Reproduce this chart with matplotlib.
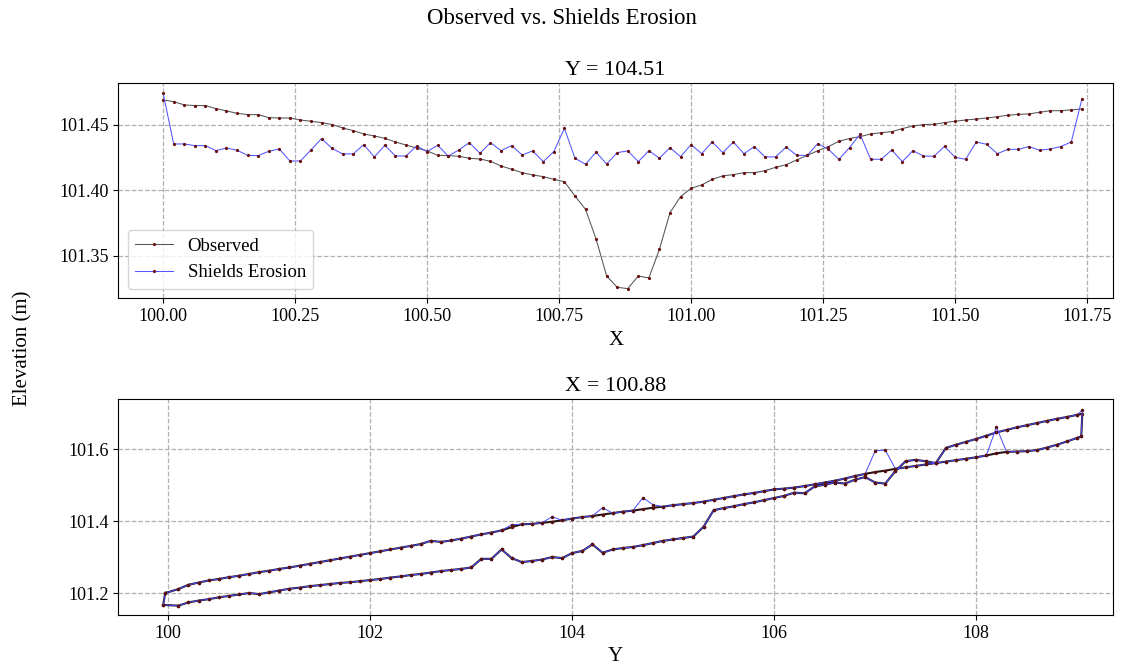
import numpy as np
import matplotlib
matplotlib.use('Agg')
import matplotlib.pyplot as plt

plt.rcParams['font.family'] = 'serif'
plt.rcParams['font.serif'] = ['Liberation Serif', 'DejaVu Serif']

# ---- section along X at Y = 104.51 ----
x_section = [
    100.00, 100.02, 100.04, 100.06, 100.08, 100.10, 100.12, 100.14, 100.16, 100.18,
    100.20, 100.22, 100.24, 100.26, 100.28, 100.30, 100.32, 100.34, 100.36, 100.38,
    100.40, 100.42, 100.44, 100.46, 100.48, 100.50, 100.52, 100.54, 100.56, 100.58,
    100.60, 100.62, 100.64, 100.66, 100.68, 100.70, 100.72, 100.74, 100.76, 100.78,
    100.80, 100.82, 100.84, 100.86, 100.88, 100.90, 100.92, 100.94, 100.96, 100.98,
    101.00, 101.02, 101.04, 101.06, 101.08, 101.10, 101.12, 101.14, 101.16, 101.18,
    101.20, 101.22, 101.24, 101.26, 101.28, 101.30, 101.32, 101.34, 101.36, 101.38,
    101.40, 101.42, 101.44, 101.46, 101.48, 101.50, 101.52, 101.54, 101.56, 101.58,
    101.60, 101.62, 101.64, 101.66, 101.68, 101.70, 101.72, 101.74]
obs_x = [
    101.4691, 101.4678, 101.4653, 101.4648, 101.4648, 101.4625, 101.4607, 101.4589, 101.4579, 101.4579,
    101.4556, 101.4553, 101.4553, 101.4538, 101.4528, 101.4518, 101.4503, 101.4477, 101.4457, 101.4431,
    101.4416, 101.4398, 101.4370, 101.4347, 101.4324, 101.4302, 101.4268, 101.4266, 101.4261, 101.4246,
    101.4240, 101.4223, 101.4187, 101.4162, 101.4136, 101.4118, 101.4106, 101.4085, 101.4067, 101.3958,
    101.3856, 101.3630, 101.3347, 101.3261, 101.3251, 101.3347, 101.3332, 101.3551, 101.3831, 101.3953,
    101.4017, 101.4042, 101.4085, 101.4111, 101.4121, 101.4136, 101.4136, 101.4151, 101.4177, 101.4197,
    101.4233, 101.4268, 101.4304, 101.4335, 101.4376, 101.4396, 101.4411, 101.4431, 101.4441, 101.4449,
    101.4472, 101.4492, 101.4503, 101.4505, 101.4518, 101.4528, 101.4538, 101.4545, 101.4553, 101.4563,
    101.4574, 101.4581, 101.4584, 101.4597, 101.4609, 101.4609, 101.4615, 101.4622]
shields_x = [
    101.4742, 101.4355, 101.4355, 101.4342, 101.4342, 101.4304, 101.4324, 101.4307, 101.4268, 101.4266,
    101.4299, 101.4317, 101.4225, 101.4225, 101.4309, 101.4396, 101.4321, 101.4279, 101.4279, 101.4350,
    101.4256, 101.4345, 101.4263, 101.4263, 101.4340, 101.4297, 101.4345, 101.4263, 101.4309, 101.4365,
    101.4284, 101.4365, 101.4304, 101.4342, 101.4271, 101.4302, 101.4220, 101.4297, 101.4474, 101.4246,
    101.4200, 101.4292, 101.4202, 101.4289, 101.4302, 101.4220, 101.4304, 101.4246, 101.4327, 101.4258,
    101.4350, 101.4281, 101.4370, 101.4289, 101.4370, 101.4281, 101.4335, 101.4256, 101.4256, 101.4332,
    101.4268, 101.4268, 101.4358, 101.4314, 101.4238, 101.4327, 101.4429, 101.4238, 101.4238, 101.4309,
    101.4220, 101.4304, 101.4263, 101.4261, 101.4337, 101.4253, 101.4238, 101.4370, 101.4352, 101.4281,
    101.4314, 101.4314, 101.4335, 101.4307, 101.4317, 101.4335, 101.4370, 101.4696]

# ---- section along Y at X = 100.88, sampled on two passes ----
y_grid = [
    100.1, 100.2, 100.3, 100.4, 100.5, 100.6, 100.7, 100.8, 100.9,
    101.0, 101.1, 101.2, 101.3, 101.4, 101.5, 101.6, 101.7, 101.8, 101.9,
    102.0, 102.1, 102.2, 102.3, 102.4, 102.5, 102.6, 102.7, 102.8, 102.9,
    103.0, 103.1, 103.2, 103.3, 103.4, 103.5, 103.6, 103.7, 103.8, 103.9,
    104.0, 104.1, 104.2, 104.3, 104.4, 104.5, 104.6, 104.7, 104.8, 104.9,
    105.0, 105.1, 105.2, 105.3, 105.4, 105.5, 105.6, 105.7, 105.8, 105.9,
    106.0, 106.1, 106.2, 106.3, 106.4, 106.5, 106.6, 106.7, 106.8, 106.9,
    107.0, 107.1, 107.2, 107.3, 107.4, 107.5, 107.6, 107.7, 107.8, 107.9,
    108.0, 108.1, 108.2, 108.3, 108.4, 108.5, 108.6, 108.7, 108.8, 108.9,
    109.0]

# smooth pass
y_pass1 = [99.97] + y_grid + [109.04]
obs_pass1 = [
    101.201,
    101.212, 101.224, 101.230, 101.236, 101.240, 101.245, 101.249, 101.254, 101.259,
    101.263, 101.268, 101.272, 101.277, 101.282, 101.287, 101.292, 101.297, 101.302, 101.307,
    101.312, 101.317, 101.322, 101.327, 101.332, 101.337, 101.346, 101.343, 101.347, 101.352,
    101.358, 101.364, 101.369, 101.375, 101.384, 101.392, 101.393, 101.396, 101.399, 101.403,
    101.408, 101.412, 101.415, 101.419, 101.423, 101.427, 101.430, 101.434, 101.438, 101.441,
    101.445, 101.448, 101.451, 101.455, 101.460, 101.465, 101.470, 101.475, 101.479, 101.484,
    101.489, 101.491, 101.494, 101.498, 101.503, 101.508, 101.513, 101.519, 101.526, 101.532,
    101.537, 101.541, 101.546, 101.550, 101.554, 101.558, 101.562, 101.566, 101.570, 101.574,
    101.578, 101.583, 101.589, 101.593, 101.594, 101.595, 101.598, 101.605, 101.613, 101.622,
    101.632,
    101.636]
# where the Shields run leaves the observed surface on the smooth pass
shields_pass1_spikes = {103.4: 101.391, 103.8: 101.413, 104.3: 101.438, 104.7: 101.466,
                        104.8: 101.446, 107.0: 101.596, 107.1: 101.598, 108.2: 101.662}

# stepped pass
y_pass2 = [99.95] + y_grid + [109.05]
obs_pass2 = [
    101.168,
    101.166, 101.175, 101.180, 101.184, 101.189, 101.193, 101.197, 101.201, 101.198,
    101.203, 101.208, 101.213, 101.216, 101.220, 101.223, 101.226, 101.229, 101.231, 101.234,
    101.237, 101.240, 101.244, 101.247, 101.251, 101.254, 101.258, 101.262, 101.265, 101.268,
    101.272, 101.296, 101.296, 101.322, 101.298, 101.287, 101.290, 101.294, 101.301, 101.298,
    101.312, 101.318, 101.336, 101.313, 101.322, 101.326, 101.329, 101.334, 101.340, 101.346,
    101.350, 101.354, 101.358, 101.385, 101.431, 101.437, 101.442, 101.448, 101.453, 101.459,
    101.465, 101.471, 101.480, 101.478, 101.497, 101.502, 101.508, 101.505, 101.516, 101.523,
    101.508, 101.505, 101.540, 101.567, 101.571, 101.567, 101.562, 101.604, 101.613, 101.621,
    101.629, 101.638, 101.647, 101.654, 101.661, 101.667, 101.673, 101.679, 101.685, 101.690,
    101.696,
    101.699]
shields_pass2_end = 101.709

shields_pass1 = list(obs_pass1)
for yv, zv in shields_pass1_spikes.items():
    shields_pass1[y_pass1.index(yv)] = zv
shields_pass2 = list(obs_pass2)
shields_pass2[-1] = shields_pass2_end

# the survey runs out along one pass and back along the other
y_loop = y_pass1 + y_pass2[::-1] + y_pass1[:1]
obs_loop = obs_pass1 + obs_pass2[::-1] + obs_pass1[:1]
shields_loop = shields_pass1 + shields_pass2[::-1] + shields_pass1[:1]

# ---- plotting ----
mk = dict(marker='.', markersize=2.6, markerfacecolor='#6b1010', markeredgecolor='#6b1010')
obs_style = dict(color='#555555', linewidth=0.75, **mk)
sh_style = dict(color='#5555ff', linewidth=0.75, **mk)

fig = plt.figure(figsize=(11.24, 6.69), dpi=100)
ax1 = fig.add_axes([0.1052, 0.5541, 0.8850, 0.3214])
ax2 = fig.add_axes([0.1052, 0.0807, 0.8850, 0.3224])

ax1.plot(x_section, obs_x, label='Observed', **obs_style)
ax1.plot(x_section, shields_x, label='Shields Erosion', **sh_style)
ax1.set_xlim(99.915, 101.799)
ax1.set_ylim(101.3177, 101.4818)
ax1.set_xticks([100.00, 100.25, 100.50, 100.75, 101.00, 101.25, 101.50, 101.75])
ax1.set_xticklabels(['%.2f' % v for v in ax1.get_xticks()])
ax1.set_yticks([101.35, 101.40, 101.45])
ax1.set_yticklabels(['%.2f' % v for v in ax1.get_yticks()])
ax1.set_title('Y = 104.51', fontsize=16)
ax1.set_xlabel('X', fontsize=15)
ax1.legend(loc='lower left', fontsize=13.5)

# the long section is densely sampled, so its traces read darker
ax2.plot(y_loop, obs_loop, color='#2a1414', linewidth=1.5,
         marker='.', markersize=3, markerfacecolor='#5a1010', markeredgecolor='#5a1010')
ax2.plot(y_loop, shields_loop, color='#4848ff', linewidth=0.7,
         marker='.', markersize=3, markerfacecolor='#5a1010', markeredgecolor='#5a1010')
ax2.set_xlim(99.505, 109.354)
ax2.set_ylim(101.14, 101.739)
ax2.set_xticks([100, 102, 104, 106, 108])
ax2.set_yticks([101.2, 101.4, 101.6])
ax2.set_yticklabels(['%.1f' % v for v in ax2.get_yticks()])
ax2.set_title('X = 100.88', fontsize=16)
ax2.set_xlabel('Y', fontsize=15)

for ax in (ax1, ax2):
    ax.grid(True, linestyle='--', color='#b0b0b0', linewidth=0.9)
    ax.tick_params(labelsize=13)

fig.suptitle('Observed vs. Shields Erosion', fontsize=16.5, y=0.973, va='center')
fig.text(0.02, 0.48, 'Elevation (m)', rotation=90, fontsize=15, ha='center', va='center')

fig.savefig('out.png', dpi=100)
